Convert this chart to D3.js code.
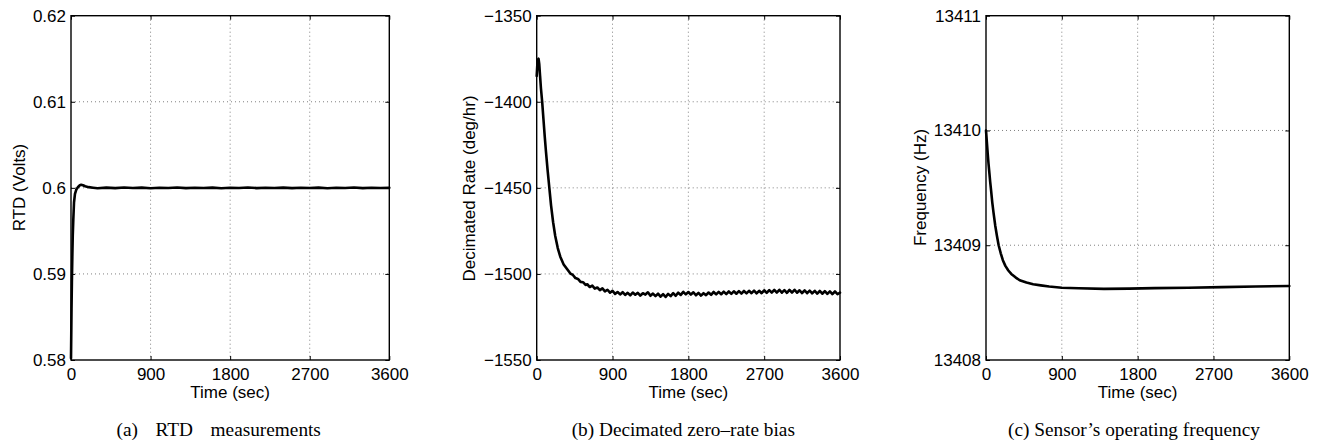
<!DOCTYPE html>
<html>
<head>
<meta charset="utf-8">
<script src="https://cdn.jsdelivr.net/npm/d3@7"></script>
<style>
  html, body { margin: 0; padding: 0; background: #fff; }
  svg { display: block; }
</style>
</head>
<body>
<svg id="chart" width="1320" height="445"></svg>
<script>
// ---------------- DATA ----------------
const xTicks = [0, 900, 1800, 2700, 3600];
const xTickLabels = ["0", "900", "1800", "2700", "3600"];

// (a) RTD measurements
const timeA = [0, 3, 6, 10, 15, 20, 26, 34, 45, 60, 80, 100, 115, 135, 160, 200, 250,
  300, 400, 500, 600, 700, 800, 900, 1000, 1100, 1200, 1300, 1400, 1500, 1600, 1700, 1800,
  1900, 2000, 2100, 2200, 2300, 2400, 2500, 2600, 2700, 2800, 2900, 3000, 3100, 3200, 3300,
  3400, 3500, 3600];
const rtdA = [0.5802, 0.5830, 0.5860, 0.5890, 0.5920, 0.5945, 0.5963, 0.5983, 0.5993, 0.5998, 0.6001, 0.60030, 0.60035, 0.60030, 0.60018, 0.60008, 0.60002,
  0.59996, 0.60003, 0.59997, 0.60004, 0.59998, 0.60003, 0.59996, 0.60002, 0.59998, 0.60004, 0.59997, 0.60002, 0.59998, 0.60003, 0.59996, 0.60002,
  0.59998, 0.60004, 0.59997, 0.60002, 0.59998, 0.60003, 0.59997, 0.60002, 0.59998, 0.60003, 0.59996, 0.60002, 0.59998, 0.60004, 0.59997,
  0.60002, 0.59998, 0.60000];
const yTicksA = [0.58, 0.59, 0.60, 0.61, 0.62];
const yTickLabelsA = ["0.58", "0.59", "0.6", "0.61", "0.62"];

// (b) Decimated zero-rate bias
const timeB = [0, 8, 15, 22, 30, 40, 50, 65, 80, 95, 110, 130, 150, 170, 195, 220, 250, 280,
  320, 360, 400, 430, 460, 490, 520, 550, 580,
  600, 630, 660, 690, 720, 750, 780, 810, 840, 870, 900, 930, 960, 990, 1020, 1050, 1080,
  1110, 1140, 1170, 1200, 1230, 1260, 1290, 1320, 1350, 1380, 1410, 1440, 1470, 1500, 1530,
  1560, 1590, 1620, 1650, 1680, 1710, 1740, 1770, 1800, 1830, 1860, 1890, 1920, 1950, 1980,
  2010, 2040, 2070, 2100, 2130, 2160, 2190, 2220, 2250, 2280, 2310, 2340, 2370, 2400, 2430,
  2460, 2490, 2520, 2550, 2580, 2610, 2640, 2670, 2700, 2730, 2760, 2790, 2820, 2850, 2880,
  2910, 2940, 2970, 3000, 3030, 3060, 3090, 3120, 3150, 3180, 3210, 3240, 3270, 3300, 3330,
  3360, 3390, 3420, 3450, 3480, 3510, 3540, 3570, 3600];
const rateB = [-1385, -1378, -1375.5, -1375, -1378, -1385, -1392, -1400, -1410, -1420, -1429, -1440, -1450, -1460, -1470, -1478, -1485, -1490,
  -1494.5, -1497.2, -1499.8, -1500.6, -1502.4, -1502.9, -1504.6, -1504.8, -1506.4,
  -1506.0, -1507.6, -1506.8, -1508.5, -1507.9, -1509.4, -1508.4, -1510.1, -1509.2, -1510.9,
  -1509.8, -1511.6, -1510.5, -1511.9, -1510.6, -1512.2, -1511.0, -1512.4, -1510.8, -1512.1,
  -1511.0, -1512.6, -1511.2, -1512.0, -1510.7, -1512.7, -1511.4, -1512.9, -1511.5, -1513.2,
  -1511.8, -1513.4, -1511.6, -1512.9, -1511.2, -1512.7, -1510.9, -1512.2, -1510.4, -1511.9,
  -1510.5, -1512.0, -1510.7, -1512.4, -1511.0, -1512.6, -1511.2, -1512.3, -1510.8, -1512.1,
  -1510.5, -1511.9, -1510.4, -1511.8, -1510.3, -1511.7, -1510.2, -1511.6, -1510.1, -1511.5,
  -1510.0, -1511.4, -1509.9, -1511.3, -1509.8, -1511.2, -1509.7, -1511.3, -1509.8, -1511.2,
  -1509.5, -1511.0, -1509.4, -1510.9, -1509.3, -1510.8, -1509.2, -1510.9, -1509.4, -1511.0,
  -1509.3, -1510.8, -1509.2, -1510.9, -1509.5, -1511.1, -1509.6, -1511.2, -1509.7, -1511.3,
  -1509.8, -1511.4, -1509.9, -1511.5, -1510.0, -1511.6, -1510.1, -1511.7, -1510.2, -1511.8,
  -1510.9];
const yTicksB = [-1550, -1500, -1450, -1400, -1350];
const yTickLabelsB = ["\u22121550", "\u22121500", "\u22121450", "\u22121400", "\u22121350"];

// (c) Sensor's operating frequency
const timeC = [0, 10, 20, 30, 40, 50, 60, 75, 90, 110, 130, 150, 175, 200, 230, 265, 300, 350,
  400, 480, 560, 650, 750, 900, 1100, 1400, 1700, 2000, 2400, 2800, 3200, 3600];
const freqC = [13410.0, 13409.90, 13409.80, 13409.71, 13409.63, 13409.55, 13409.48, 13409.37, 13409.28, 13409.17, 13409.08, 13409.00, 13408.93, 13408.87, 13408.82, 13408.78, 13408.75, 13408.72,
  13408.695, 13408.675, 13408.66, 13408.65, 13408.64, 13408.63, 13408.625, 13408.62, 13408.622, 13408.626, 13408.63, 13408.635, 13408.64, 13408.645];
const yTicksC = [13408, 13409, 13410, 13411];
const yTickLabelsC = ["13408", "13409", "13410", "13411"];

const xLabel = "Time (sec)";
const yLabels = ["RTD (Volts)", "Decimated Rate (deg/hr)", "Frequency (Hz)"];
const captions = ["(a)\u00a0 RTD\u00a0 measurements", "(b)\u00a0Decimated zero\u2013rate bias", "(c)\u00a0Sensor\u2019s operating frequency"];

// ---------------- LAYOUT ----------------
const TOP = 15.7, BOTTOM = 360;
const panels = [
  { left: 71, right: 389.3, time: timeA, vals: rtdA, yTicks: yTicksA, yLabs: yTickLabelsA,
    yLabel: yLabels[0], yLabelX: 25, yLabelY: 187.5, caption: captions[0], capX: 218.7, wordSp: 4 },
  { left: 536.7, right: 840, time: timeB, vals: rateB, yTicks: yTicksB, yLabs: yTickLabelsB,
    yLabel: yLabels[1], yLabelX: 474.5, yLabelY: 188.5, caption: captions[1], capX: 683.3, wordSp: 0 },
  { left: 986, right: 1289.3, time: timeC, vals: freqC, yTicks: yTicksC, yLabs: yTickLabelsC,
    yLabel: yLabels[2], yLabelX: 925.5, yLabelY: 187.5, caption: captions[2], capX: 1134, wordSp: 0 }
];

const svg = d3.select("#chart");
const sansFont = "'Liberation Sans', Arial, Helvetica, sans-serif";
const serifFont = "'Liberation Serif', 'Times New Roman', serif";

panels.forEach(p => {
  const x = d3.scaleLinear().domain([xTicks[0], xTicks[xTicks.length - 1]]).range([p.left, p.right]);
  const y = d3.scaleLinear().domain([p.yTicks[0], p.yTicks[p.yTicks.length - 1]]).range([BOTTOM, TOP]);
  const g = svg.append("g");

  // grid lines (dotted)
  const grid = g.append("g").attr("stroke", "#808080").attr("stroke-width", 1)
    .attr("stroke-dasharray", "1,3");
  xTicks.slice(1, -1).forEach(t => {
    grid.append("line").attr("x1", x(t)).attr("x2", x(t)).attr("y1", TOP).attr("y2", BOTTOM);
  });
  p.yTicks.slice(1, -1).forEach(v => {
    grid.append("line").attr("x1", p.left).attr("x2", p.right).attr("y1", y(v)).attr("y2", y(v));
  });

  // axes
  const axB = d3.axisBottom(x).tickValues(xTicks).tickFormat((d, i) => xTickLabels[i])
    .tickSize(-4).tickSizeOuter(0).tickPadding(8);
  const axL = d3.axisLeft(y).tickValues(p.yTicks).tickFormat((d, i) => p.yLabs[i])
    .tickSize(-4).tickSizeOuter(0).tickPadding(5);
  const axT = d3.axisTop(x).tickValues(xTicks).tickFormat("").tickSize(-4).tickSizeOuter(0);
  const axR = d3.axisRight(y).tickValues(p.yTicks).tickFormat("").tickSize(-4).tickSizeOuter(0);

  [[axB, `translate(0,${BOTTOM})`], [axL, `translate(${p.left},0)`],
   [axT, `translate(0,${TOP})`], [axR, `translate(${p.right},0)`]].forEach(([ax, tr]) => {
    const a = g.append("g").attr("transform", tr).call(ax);
    a.select(".domain").remove();
    a.selectAll("line").attr("stroke", "#000").attr("stroke-width", 1);
    a.selectAll("text").attr("fill", "#000").style("font-family", sansFont).style("font-size", "17px");
  });

  // curve
  const pts = p.time.map((t, i) => [t, p.vals[i]]);
  g.append("path").datum(pts)
    .attr("fill", "none").attr("stroke", "#000").attr("stroke-width", 2.6)
    .attr("stroke-linejoin", "round").attr("stroke-linecap", "round")
    .attr("d", d3.line().x(d => x(d[0])).y(d => y(d[1])));

  // box
  g.append("rect").attr("x", p.left).attr("y", TOP).attr("width", p.right - p.left)
    .attr("height", BOTTOM - TOP).attr("fill", "none").attr("stroke", "#000").attr("stroke-width", 1.4);

  // x label
  g.append("text").attr("x", (p.left + p.right) / 2).attr("y", 397.5)
    .attr("text-anchor", "middle").style("font-family", sansFont).style("font-size", "17px")
    .text(xLabel);

  // y label
  g.append("text").attr("transform", `translate(${p.yLabelX},${p.yLabelY}) rotate(-90)`)
    .attr("text-anchor", "middle").style("font-family", sansFont).style("font-size", "17px")
    .text(p.yLabel);

  // caption
  g.append("text").attr("x", p.capX).attr("y", 436).attr("text-anchor", "middle")
    .style("font-family", serifFont).style("font-size", "19.3px").style("word-spacing", p.wordSp + "px")
    .text(p.caption);
});
</script>
</body>
</html>
